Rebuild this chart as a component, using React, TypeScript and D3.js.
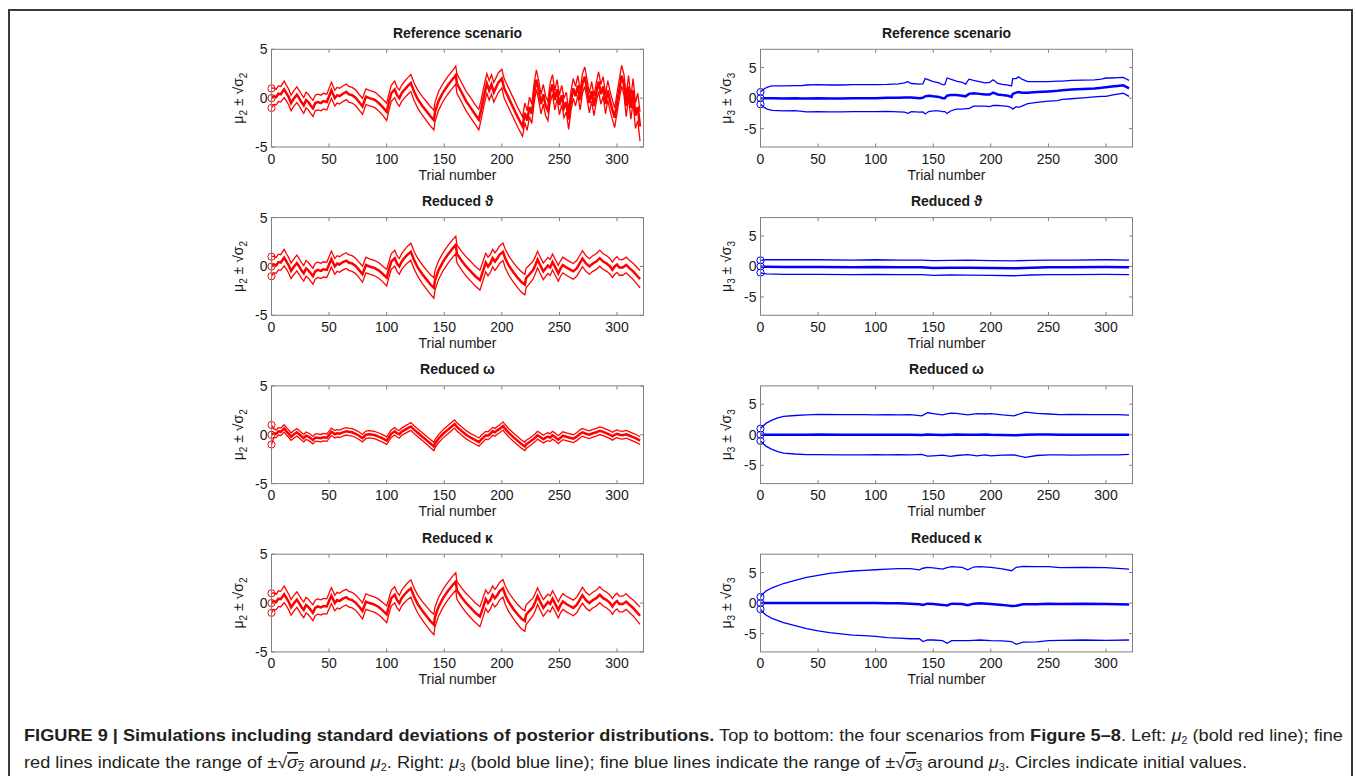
import { useEffect, useRef } from 'react'
import * as d3 from 'd3'

// ---------- data ----------

const TRIAL_TICKS = [0, 50, 100, 150, 200, 250, 300]
const MU2_TICKS = [-5, 0, 5]
const MU3_TICKS = [-5, 0, 5]
const ROW_TITLES = ['Reference scenario', 'Reduced ϑ', 'Reduced ω', 'Reduced κ']

// Left column: mu2 and sqrt(sigma2), reference scenario
const refMu2Trials = [
  0, 2, 4, 6, 8, 11, 13, 15, 17, 19, 22, 24, 26, 28, 30, 32, 34, 36, 38, 40, 43, 45, 48, 50, 52, 55, 57, 59, 62, 65,
  67, 70, 73, 76, 79, 82, 85, 88, 90, 93, 96, 100, 102, 104, 107, 109, 111, 113, 115, 118, 121, 124, 127, 131, 135,
  138, 141, 142, 145, 149, 153, 157, 160, 161, 165, 169, 173, 177, 180, 182, 185, 187, 189, 191, 193, 195, 197, 200,
  202, 206, 210, 214, 218, 220, 222, 224, 226, 228, 230, 232, 234, 236, 238, 240, 242, 244, 246, 248, 250, 252, 254,
  256, 258, 260, 262, 264, 266, 268, 270, 272, 274, 276, 278, 280, 282, 284, 286, 288, 290, 292, 294, 296, 298, 300,
  302, 304, 306, 308, 310, 312, 314, 316, 318, 320,
]
const refMu2 = [
  0, 0.2, 0.1, 0.45, 0.4, 0.9, 0.5, 0.1, -0.5, -0.1, 0.35, 0, -0.4, -0.75, -0.2, -0.4, -0.75, -1.05, -0.5, -0.4, -0.5,
  -0.3, -0.4, 0.2, 0.8, 0, 0.3, 0.2, 0.45, 0.65, 0.4, 0.3, 0.05, -0.4, -0.85, 0.15, 0, -0.1, -0.2, -0.5, -0.85, -1.4,
  -0.4, 0.5, 0.9, 0.3, 0, 0.5, 0.8, 1.2, 1.55, 0.6, -0.1, -0.8, -1.4, -1.85, -2.25, -1.4, -0.3, 0.6, 1.3, 1.9, 2.35,
  1.5, 0.6, -0.3, -1.0, -1.7, -2.2, -1.2, 0.5, 1.5, 0.8, 1.4, 0.6, 1.1, 1.6, 2.0, 1.0, 0, -1.0, -2.0, -2.9, -1.5, -2.3,
  -0.9, -1.6, 0.5, 1.9, 0.8, -0.6, 0.4, -0.8, -1.3, 0.6, 1.4, -0.2, 0.9, -0.7, 0.3, -1.0, -0.4, -2.2, -0.3, 1.0, 0.2,
  1.3, -0.2, 1.5, 2.2, 0.9, -0.5, 0.7, -0.8, 0.6, 1.7, 0.4, 1.2, -0.6, 0.8, -0.3, -1.2, -2.0, -0.5, 0.9, 2.3, 1.4,
  -0.8, 1.2, -1.0, 0.8, -1.8, -0.9, -2.9,
]
const refSd2 = [
  1.0, 0.85, 0.8, 0.8, 0.8, 0.85, 0.8, 0.8, 0.8, 0.8, 0.8, 0.8, 0.8, 0.8, 0.8, 0.8, 0.8, 0.82, 0.8, 0.8, 0.8, 0.8,
  0.8, 0.8, 0.82, 0.8, 0.8, 0.8, 0.8, 0.8, 0.8, 0.8, 0.8, 0.8, 0.82, 0.8, 0.8, 0.8, 0.8, 0.8, 0.82, 0.88, 0.85, 0.82,
  0.85, 0.82, 0.82, 0.82, 0.85, 0.85, 0.88, 0.9, 0.92, 0.95, 0.98, 1.0, 1.0, 1.0, 0.95, 0.92, 0.9, 0.9, 0.92, 1.0,
  1.0, 1.0, 1.02, 1.02, 1.05, 1.0, 1.0, 1.0, 1.0, 1.0, 1.0, 1.0, 1.0, 0.95, 1.0, 1.0, 1.0, 1.0, 1.0, 1.0, 1.0, 1.0,
  1.0, 1.0, 1.0, 1.0, 1.0, 1.0, 1.0, 1.0, 1.0, 1.0, 1.0, 1.0, 1.0, 1.0, 1.0, 1.0, 1.0, 1.0, 1.0, 1.0, 1.0, 1.0, 1.0,
  1.0, 1.0, 1.0, 1.0, 1.0, 1.0, 1.0, 1.0, 1.0, 1.0, 1.0, 1.0, 1.0, 1.0, 1.0, 1.0, 1.05, 1.05, 1.1, 1.1, 1.15, 1.2,
  1.3, 1.4, 1.5, 1.6,
]

// Left column, reduced theta (the reduced kappa run gives the same mu2)
const thetaMu2Trials = [
  0, 2, 4, 6, 8, 11, 13, 15, 17, 19, 22, 24, 26, 28, 30, 32, 34, 36, 38, 40, 43, 45, 48, 50, 52, 55, 57, 59, 62, 65,
  67, 70, 73, 76, 79, 82, 85, 88, 90, 93, 96, 100, 102, 104, 107, 109, 111, 113, 115, 118, 121, 124, 127, 131, 135,
  138, 141, 142, 145, 149, 153, 157, 160, 161, 165, 169, 173, 177, 181, 183, 186, 188, 190, 192, 194, 196, 198, 201,
  203, 206, 210, 214, 217, 220, 221, 224, 227, 229, 231, 233, 236, 238, 240, 242, 244, 246, 249, 251, 253, 256, 259,
  262, 265, 268, 270, 273, 276, 279, 282, 285, 288, 291, 294, 296, 298, 300, 302, 305, 308, 311, 314, 317, 320,
]
const thetaMu2 = [
  0, 0.2, 0.1, 0.45, 0.4, 0.9, 0.5, 0.1, -0.45, -0.1, 0.35, 0, -0.4, -0.7, -0.2, -0.4, -0.7, -1.0, -0.5, -0.35, -0.45,
  -0.3, -0.35, 0.2, 0.75, 0, 0.3, 0.2, 0.45, 0.6, 0.4, 0.3, 0.05, -0.35, -0.8, 0.15, 0, -0.1, -0.2, -0.4, -0.7, -1.15,
  -0.3, 0.5, 0.85, 0.3, 0, 0.5, 0.8, 1.2, 1.5, 0.6, -0.1, -0.8, -1.4, -1.85, -2.2, -1.4, -0.4, 0.5, 1.2, 1.8, 2.2,
  1.3, 0.6, 0, -0.5, -1.0, -1.4, -0.7, 0.4, 0, 0.3, 0.85, 0.5, 0.8, 1.2, 1.5, 0.8, 0.1, -0.6, -1.2, -1.6, -1.85,
  -1.2, -0.8, -0.4, 0.1, 0.7, 0.2, -0.5, -0.2, 0.1, -0.1, 0.45, 0, -0.7, -0.2, 0.15, -0.1, -0.3, -0.5, -0.2, 0.4,
  0.8, 0.3, 0, 0.3, 0.5, 0.85, 0.5, 0.3, 0, -0.35, 0, 0.2, -0.1, -0.1, 0.15, -0.2, -0.5, -0.9, -1.3,
]
const thetaSd2 = [
  1.0, 0.85, 0.8, 0.8, 0.8, 0.85, 0.8, 0.8, 0.8, 0.8, 0.8, 0.8, 0.8, 0.8, 0.8, 0.8, 0.8, 0.82, 0.8, 0.78, 0.78, 0.78,
  0.78, 0.8, 0.82, 0.8, 0.8, 0.8, 0.8, 0.8, 0.8, 0.8, 0.78, 0.8, 0.82, 0.8, 0.78, 0.78, 0.78, 0.8, 0.8, 0.85, 0.8,
  0.8, 0.82, 0.8, 0.8, 0.8, 0.82, 0.85, 0.88, 0.9, 0.92, 0.95, 0.98, 1.0, 1.05, 1.0, 0.95, 0.92, 0.9, 0.9, 0.9, 0.92,
  0.95, 0.98, 1.0, 1.0, 1.02, 1.0, 0.95, 0.95, 0.92, 0.9, 0.9, 0.9, 0.9, 0.9, 0.95, 0.98, 1.0, 1.02, 1.05, 1.05, 1.0,
  0.95, 0.9, 0.88, 0.85, 0.85, 0.85, 0.82, 0.82, 0.82, 0.82, 0.82, 0.82, 0.8, 0.8, 0.8, 0.8, 0.8, 0.8, 0.8, 0.82,
  0.8, 0.8, 0.8, 0.8, 0.82, 0.8, 0.8, 0.8, 0.8, 0.8, 0.8, 0.8, 0.8, 0.8, 0.8, 0.82, 0.85, 0.88,
]

// Left column, reduced omega
const omegaMu2Trials = [
  0, 2, 4, 6, 8, 11, 13, 15, 17, 19, 22, 24, 26, 28, 30, 32, 34, 36, 38, 40, 43, 45, 48, 50, 52, 55, 57, 59, 62, 65,
  67, 70, 73, 76, 79, 82, 85, 88, 90, 93, 96, 100, 102, 104, 107, 109, 111, 113, 115, 118, 121, 124, 127, 131, 135,
  138, 141, 142, 145, 149, 153, 157, 159, 161, 165, 169, 173, 177, 180, 182, 186, 188, 190, 192, 194, 196, 198, 201,
  203, 206, 210, 214, 217, 220, 221, 224, 227, 229, 231, 233, 236, 238, 240, 242, 244, 246, 249, 251, 253, 256, 259,
  262, 265, 268, 270, 273, 276, 279, 282, 285, 288, 291, 294, 296, 298, 300, 302, 305, 308, 311, 314, 317, 320,
]
const omegaMu2 = [
  0, 0.15, 0.1, 0.35, 0.3, 0.65, 0.35, 0.1, -0.2, 0, 0.25, 0.05, -0.15, -0.35, -0.1, -0.2, -0.35, -0.55, -0.3, -0.3,
  -0.35, -0.25, -0.3, 0, 0.3, 0.05, 0.15, 0.1, 0.25, 0.35, 0.3, 0.25, 0.1, -0.1, -0.35, 0, 0.05, 0, -0.05, -0.2,
  -0.35, -0.6, -0.25, 0.1, 0.35, 0.15, 0.05, 0.3, 0.45, 0.65, 0.85, 0.5, 0.2, -0.2, -0.6, -0.9, -1.2, -0.9, -0.4, 0.1,
  0.5, 0.9, 1.1, 0.8, 0.4, 0, -0.3, -0.55, -0.75, -0.5, -0.05, -0.1, 0.1, 0.35, 0.25, 0.45, 0.6, 0.9, 0.6, 0.2, -0.25,
  -0.65, -0.95, -1.2, -1.0, -0.75, -0.5, -0.3, -0.05, -0.2, -0.45, -0.3, -0.2, -0.3, -0.05, -0.2, -0.5, -0.3, -0.1,
  -0.2, -0.3, -0.4, -0.2, 0.1, 0.25, 0.1, 0, 0.15, 0.25, 0.4, 0.3, 0.15, 0, -0.15, 0, 0.1, 0, -0.05, 0.05, -0.1,
  -0.25, -0.4, -0.6,
]
const omegaSd2 = [
  1.0, 0.45, 0.4, 0.38, 0.38, 0.38, 0.38, 0.38, 0.38, 0.38, 0.38, 0.38, 0.38, 0.38, 0.38, 0.38, 0.38, 0.38, 0.38,
  0.38, 0.38, 0.38, 0.38, 0.38, 0.38, 0.38, 0.38, 0.38, 0.38, 0.38, 0.38, 0.38, 0.38, 0.38, 0.38, 0.38, 0.38, 0.38,
  0.38, 0.38, 0.38, 0.38, 0.38, 0.38, 0.38, 0.38, 0.38, 0.38, 0.38, 0.38, 0.4, 0.4, 0.4, 0.4, 0.4, 0.42, 0.42, 0.42,
  0.42, 0.42, 0.42, 0.42, 0.42, 0.42, 0.42, 0.42, 0.42, 0.42, 0.42, 0.42, 0.4, 0.4, 0.4, 0.4, 0.4, 0.4, 0.4, 0.42,
  0.42, 0.42, 0.42, 0.42, 0.42, 0.42, 0.42, 0.4, 0.4, 0.4, 0.4, 0.4, 0.4, 0.4, 0.4, 0.4, 0.4, 0.4, 0.4, 0.4, 0.4,
  0.4, 0.4, 0.4, 0.4, 0.4, 0.4, 0.4, 0.4, 0.4, 0.4, 0.4, 0.4, 0.4, 0.4, 0.4, 0.4, 0.4, 0.4, 0.4, 0.4, 0.4, 0.4, 0.4,
  0.4,
]

// Right column: mu3 and sqrt(sigma3)
const refMu3Trials = [
  0, 3, 6, 10, 20, 30, 36, 40, 50, 60, 70, 80, 90, 100, 110, 120, 125, 128, 131, 138, 141, 143, 146, 150, 155, 158,
  160, 162, 165, 170, 175, 178, 181, 185, 190, 195, 199, 202, 206, 210, 215, 218, 219, 222, 224, 227, 232, 240, 250,
  258, 262, 270, 280, 290, 296, 300, 305, 310, 315, 318, 320,
]
const refMu3 = [
  0, 0, 0, 0, -0.05, 0, -0.05, -0.05, 0, -0.05, -0.05, 0, 0, 0, 0.05, 0.05, 0.1, 0.1, 0.1, 0, 0.05, 0.3, 0.4, 0.3,
  0.2, 0, 0, 0.4, 0.5, 0.5, 0.4, 0.3, 0.7, 0.8, 0.7, 0.6, 0.6, 0.9, 0.6, 0.5, 0.4, 0.2, 0.7, 0.9, 1.0, 0.9, 0.9, 1.0,
  1.1, 1.2, 1.3, 1.4, 1.5, 1.6, 1.7, 1.8, 1.9, 2.0, 2.1, 1.8, 1.6,
]
const refSd3 = [
  1.0, 1.5, 1.8, 2.0, 2.05, 2.05, 2.1, 2.2, 2.2, 2.2, 2.2, 2.2, 2.2, 2.2, 2.2, 2.3, 2.4, 2.6, 2.3, 2.3, 2.3, 2.9, 2.6,
  2.4, 2.3, 2.2, 2.2, 2.9, 2.6, 2.3, 2.2, 2.0, 2.4, 2.1, 2.0, 1.9, 2.0, 2.1, 1.8, 1.75, 1.75, 1.8, 2.5, 2.3, 2.5, 2.2,
  1.8, 1.7, 1.6, 1.6, 1.5, 1.5, 1.45, 1.4, 1.4, 1.5, 1.4, 1.35, 1.3, 1.3, 1.3,
]

const thetaMu3Trials = [0, 2, 5, 20, 50, 80, 100, 120, 140, 150, 165, 180, 200, 220, 235, 250, 270, 300, 320]
const thetaMu3 = [
  0, -0.05, -0.05, -0.1, -0.1, -0.15, -0.1, -0.15, -0.15, -0.25, -0.2, -0.2, -0.25, -0.3, -0.2, -0.15, -0.15, -0.1,
  -0.15,
]
const thetaSd3 = [1.0, 1.1, 1.15, 1.2, 1.2, 1.2, 1.2, 1.2, 1.2, 1.22, 1.2, 1.22, 1.2, 1.22, 1.2, 1.2, 1.2, 1.2, 1.2]

const omegaMu3Trials = [
  0, 2, 5, 10, 15, 20, 30, 40, 50, 70, 90, 100, 110, 120, 130, 140, 145, 150, 158, 165, 170, 180, 188, 195, 200, 210,
  220, 230, 240, 250, 260, 270, 290, 310, 320,
]
const omegaMu3 = [
  0, 0, 0, 0, 0, 0, 0, 0, 0.05, 0, 0, 0, 0, 0, 0, -0.05, 0.05, 0, -0.05, 0, 0.05, 0, 0, 0.05, 0, -0.05, -0.1, 0, 0.05,
  0.05, 0, 0, 0, 0, 0,
]
const omegaSd3 = [
  1.0, 1.4, 1.9, 2.4, 2.75, 3.0, 3.15, 3.25, 3.3, 3.3, 3.3, 3.25, 3.3, 3.25, 3.3, 3.15, 3.55, 3.45, 3.3, 3.55, 3.45,
  3.25, 3.45, 3.35, 3.45, 3.3, 3.2, 3.7, 3.45, 3.35, 3.3, 3.35, 3.3, 3.3, 3.2,
]

const kappaMu3Trials = [
  0, 2, 5, 10, 20, 30, 40, 50, 60, 70, 80, 90, 100, 110, 120, 130, 138, 141, 145, 150, 158, 162, 166, 175, 180, 185,
  190, 200, 210, 218, 222, 228, 240, 250, 260, 280, 300, 320,
]
const kappaMu3 = [
  0, 0, 0, 0, 0, 0, 0, 0, 0, 0, 0, 0, 0, -0.05, -0.05, -0.1, -0.2, -0.3, -0.1, -0.15, -0.3, -0.4, -0.1, -0.15, -0.35,
  -0.1, -0.05, -0.15, -0.3, -0.5, -0.45, -0.2, -0.2, -0.1, -0.15, -0.1, -0.15, -0.25,
]
const kappaSd3 = [
  1.0, 1.5, 2.0, 2.5, 3.2, 3.7, 4.2, 4.55, 4.85, 5.05, 5.25, 5.35, 5.45, 5.6, 5.7, 5.75, 5.65, 6.0, 5.95, 5.9, 5.85,
  6.2, 6.05, 6.0, 5.8, 6.0, 6.0, 6.0, 5.9, 5.8, 6.3, 6.2, 6.15, 6.05, 5.95, 5.95, 5.95, 5.8,
]

// ---------- layout ----------

const X_DOMAIN = [0, 323]
const PANEL_W = 372
const PANEL_H = 97.7
const LEFT_X = 271.5
const RIGHT_X = 760.5
const TOP_Y = 49.3
const ROW_STEP = 168.3
const AXIS_COLOR = '#808080'
const TEXT_COLOR = '#1a1a1a'
const RED = '#ff0000'
const BLUE = '#0000ff'
const FONT = "'Liberation Sans', Arial, Helvetica, sans-serif"
const CAPTION_FONT = "'Liberation Sans Narrow', 'Liberation Sans', Arial, sans-serif"

interface Series {
  trials: number[]
  mu: number[]
  sd: number[]
}

const leftSeries: Series[] = [
  { trials: refMu2Trials, mu: refMu2, sd: refSd2 },
  { trials: thetaMu2Trials, mu: thetaMu2, sd: thetaSd2 },
  { trials: omegaMu2Trials, mu: omegaMu2, sd: omegaSd2 },
  { trials: thetaMu2Trials, mu: thetaMu2, sd: thetaSd2 },
]
const rightSeries: Series[] = [
  { trials: refMu3Trials, mu: refMu3, sd: refSd3 },
  { trials: thetaMu3Trials, mu: thetaMu3, sd: thetaSd3 },
  { trials: omegaMu3Trials, mu: omegaMu3, sd: omegaSd3 },
  { trials: kappaMu3Trials, mu: kappaMu3, sd: kappaSd3 },
]

interface PanelOpts {
  x0: number
  y0: number
  series: Series
  yDomain: number[]
  yTicks: number[]
  color: string
  level: string
  title: string
  labelX: number
  clipId: string
}

function drawPanel(root: d3.Selection<SVGGElement, unknown, null, undefined>, o: PanelOpts) {
  const x = d3.scaleLinear().domain(X_DOMAIN).range([o.x0, o.x0 + PANEL_W])
  const y = d3.scaleLinear().domain(o.yDomain).range([o.y0 + PANEL_H, o.y0])
  const g = root.append('g')

  g.append('clipPath')
    .attr('id', o.clipId)
    .append('rect')
    .attr('x', o.x0)
    .attr('y', o.y0)
    .attr('width', PANEL_W)
    .attr('height', PANEL_H)

  const pts = o.series.trials.map((t, i) => ({ t, mu: o.series.mu[i], sd: o.series.sd[i] }))
  const mk = (f: (d: { t: number; mu: number; sd: number }) => number) =>
    d3
      .line<{ t: number; mu: number; sd: number }>()
      .x((d) => x(d.t))
      .y((d) => y(f(d)))

  // fine lines (mu +/- sd) and bold mean
  const lines = g.append('g').attr('clip-path', `url(#${o.clipId})`).attr('fill', 'none').attr('stroke', o.color)
  lines.append('path').datum(pts).attr('d', mk((d) => d.mu + d.sd)).attr('stroke-width', 1.3)
  lines.append('path').datum(pts).attr('d', mk((d) => d.mu - d.sd)).attr('stroke-width', 1.3)
  lines.append('path').datum(pts).attr('d', mk((d) => d.mu)).attr('stroke-width', 2.5)

  // initial values
  const p0 = pts[0]
  g.append('g')
    .selectAll('circle')
    .data([p0.mu + p0.sd, p0.mu, p0.mu - p0.sd])
    .join('circle')
    .attr('cx', x(p0.t))
    .attr('cy', (d) => y(d))
    .attr('r', 3.6)
    .attr('fill', 'none')
    .attr('stroke', o.color)
    .attr('stroke-width', 1)

  // box
  g.append('rect')
    .attr('x', o.x0)
    .attr('y', o.y0)
    .attr('width', PANEL_W)
    .attr('height', PANEL_H)
    .attr('fill', 'none')
    .attr('stroke', AXIS_COLOR)
    .attr('stroke-width', 1)

  // ticks (inward, mirrored on both sides)
  const ticks = g.append('g').attr('stroke', AXIS_COLOR).attr('stroke-width', 1)
  TRIAL_TICKS.forEach((t) => {
    ticks.append('line').attr('x1', x(t)).attr('x2', x(t)).attr('y1', o.y0 + PANEL_H).attr('y2', o.y0 + PANEL_H - 3.5)
    ticks.append('line').attr('x1', x(t)).attr('x2', x(t)).attr('y1', o.y0).attr('y2', o.y0 + 3.5)
  })
  o.yTicks.forEach((v) => {
    ticks.append('line').attr('x1', o.x0).attr('x2', o.x0 + 3.5).attr('y1', y(v)).attr('y2', y(v))
    ticks.append('line').attr('x1', o.x0 + PANEL_W).attr('x2', o.x0 + PANEL_W - 3.5).attr('y1', y(v)).attr('y2', y(v))
  })

  const txt = g.append('g').attr('font-family', FONT).attr('fill', TEXT_COLOR).attr('font-size', 14)

  txt.append('g')
    .selectAll('text')
    .data(TRIAL_TICKS)
    .join('text')
    .attr('x', (d) => x(d))
    .attr('y', o.y0 + PANEL_H + 16.5)
    .attr('text-anchor', 'middle')
    .text((d) => d)

  txt.append('g')
    .selectAll('text')
    .data(o.yTicks)
    .join('text')
    .attr('x', o.x0 - 4)
    .attr('y', (d) => y(d) + 5)
    .attr('text-anchor', 'end')
    .text((d) => d)

  txt.append('text')
    .attr('x', o.x0 + PANEL_W / 2)
    .attr('y', o.y0 + PANEL_H + 32.5)
    .attr('text-anchor', 'middle')
    .text('Trial number')

  txt.append('text')
    .attr('x', o.x0 + PANEL_W / 2)
    .attr('y', o.y0 - 11.5)
    .attr('text-anchor', 'middle')
    .attr('font-weight', 'bold')
    .text(o.title)

  const yl = txt
    .append('text')
    .attr('transform', `translate(${o.labelX},${o.y0 + PANEL_H / 2}) rotate(-90)`)
    .attr('text-anchor', 'middle')
  yl.append('tspan').text('μ')
  yl.append('tspan').attr('dy', 4).attr('font-size', 10).text(o.level)
  yl.append('tspan').attr('dy', -4).text(' ± √σ')
  yl.append('tspan').attr('dy', 4).attr('font-size', 10).text(o.level)
}

export default function App() {
  const gRef = useRef<SVGGElement>(null)

  useEffect(() => {
    if (!gRef.current) return
    const root = d3.select(gRef.current)
    root.selectAll('*').remove()

    ROW_TITLES.forEach((title, i) => {
      const y0 = TOP_Y + ROW_STEP * i
      drawPanel(root, {
        x0: LEFT_X,
        y0,
        series: leftSeries[i],
        yDomain: [-5, 5],
        yTicks: MU2_TICKS,
        color: RED,
        level: '2',
        title,
        labelX: 243,
        clipId: `clip-l${i}`,
      })
      drawPanel(root, {
        x0: RIGHT_X,
        y0,
        series: rightSeries[i],
        yDomain: [-8, 8],
        yTicks: MU3_TICKS,
        color: BLUE,
        level: '3',
        title,
        labelX: 731,
        clipId: `clip-r${i}`,
      })
    })
  }, [])

  return (
    <svg
      width={1356}
      height={776}
      style={{ position: 'absolute', left: 0, top: 0, display: 'block', background: '#fff' }}
    >
      <rect x={0} y={0} width={1356} height={776} fill="#fff" />
      <rect x={9} y={10} width={1343} height={800} fill="none" stroke="#3a3a3a" strokeWidth={2} />
      <g ref={gRef} />

      <g fontFamily={CAPTION_FONT} fill="#231f20" fontSize={16.5}>
        <text x={24} y={741} textLength={1319} lengthAdjust="spacingAndGlyphs">
          <tspan fontWeight="bold">FIGURE 9 | Simulations including standard deviations of posterior distributions.</tspan>
          <tspan> Top to bottom: the four scenarios from </tspan>
          <tspan fontWeight="bold">Figure 5–8</tspan>
          <tspan>. Left: </tspan>
          <tspan fontStyle="italic">μ</tspan>
          <tspan dy={3} fontSize={10}>2</tspan>
          <tspan dy={-3}> (bold red line); fine</tspan>
        </text>
        <text x={24} y={768} textLength={1223} lengthAdjust="spacingAndGlyphs">
          <tspan>red lines indicate the range of ±√</tspan>
          <tspan fontStyle="italic" textDecoration="overline">σ</tspan>
          <tspan dy={3} fontSize={10} textDecoration="overline">2</tspan>
          <tspan dy={-3}> around </tspan>
          <tspan fontStyle="italic">μ</tspan>
          <tspan dy={3} fontSize={10}>2</tspan>
          <tspan dy={-3}>. Right: </tspan>
          <tspan fontStyle="italic">μ</tspan>
          <tspan dy={3} fontSize={10}>3</tspan>
          <tspan dy={-3}> (bold blue line); fine blue lines indicate the range of ±√</tspan>
          <tspan fontStyle="italic" textDecoration="overline">σ</tspan>
          <tspan dy={3} fontSize={10} textDecoration="overline">3</tspan>
          <tspan dy={-3}> around </tspan>
          <tspan fontStyle="italic">μ</tspan>
          <tspan dy={3} fontSize={10}>3</tspan>
          <tspan dy={-3}>. Circles indicate initial values.</tspan>
        </text>
      </g>
    </svg>
  )
}
